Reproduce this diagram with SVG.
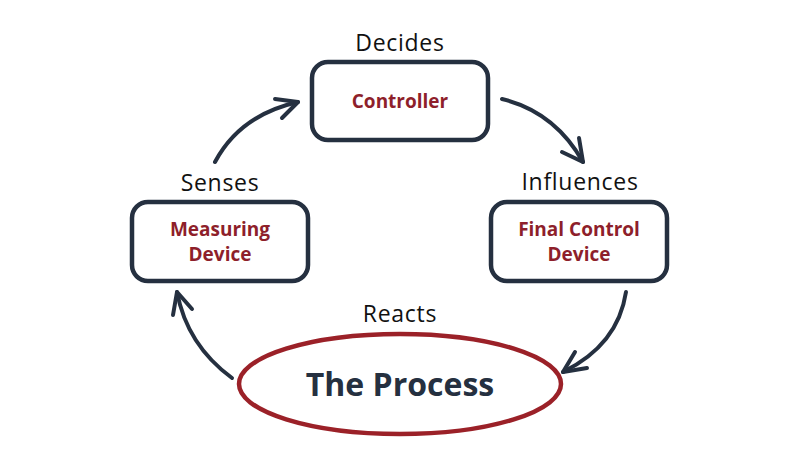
<svg xmlns="http://www.w3.org/2000/svg" width="800" height="452" viewBox="0 0 800 452">
<style>
.box{fill:#fff;stroke:#253040;stroke-width:4.5}
.lbl{font-family:"Open Sans","Noto Sans",sans-serif;font-size:23px;letter-spacing:0.7px;fill:#111;text-anchor:middle}
.nt{font-family:"Open Sans","Noto Sans",sans-serif;font-weight:bold;font-size:19px;fill:#8e1f2b;text-anchor:middle}
.conn path{fill:none;stroke:#253040;stroke-width:4;stroke-linecap:round;stroke-linejoin:round}
</style>
<rect width="800" height="452" fill="#fff"/>
<g id="controller">
<rect class="box" x="312" y="62" width="176" height="78" rx="16"/>
<text class="nt" x="400" y="108">Controller</text>
<text class="lbl" x="400" y="51">Decides</text>
</g>
<g id="measuring">
<rect class="box" x="132" y="202" width="176" height="79" rx="16"/>
<text class="nt" x="220" y="236">Measuring</text>
<text class="nt" x="220" y="261">Device</text>
<text class="lbl" x="220" y="191">Senses</text>
</g>
<g id="final">
<rect class="box" x="491" y="202" width="176" height="79" rx="16"/>
<text class="nt" x="579" y="236">Final Control</text>
<text class="nt" x="579" y="261">Device</text>
<text class="lbl" x="580" y="190">Influences</text>
</g>
<g id="process">
<ellipse cx="400" cy="384" rx="161" ry="50" fill="#fff" stroke="#9b2128" stroke-width="4.5"/>
<text x="400" y="396" font-family="'Open Sans','Noto Sans',sans-serif" font-weight="bold" font-size="32" fill="#253040" text-anchor="middle">The Process</text>
<text class="lbl" x="400" y="322">Reacts</text>
</g>
<g id="connectors" class="conn">
<path d="M215 162 Q240 115 298 102"/>
<path d="M275 99 L298 102 L282 118"/>
<path d="M502 99 Q555 112 583 162"/>
<path d="M579 138 L583 162 L562 152"/>
<path d="M626 292 Q618 345 563 372"/>
<path d="M575 352 L563 372 L587 368"/>
<path d="M232 378 Q187 345 177 292"/>
<path d="M173 315 L177 292 L192 309"/>
</g>
</svg>
